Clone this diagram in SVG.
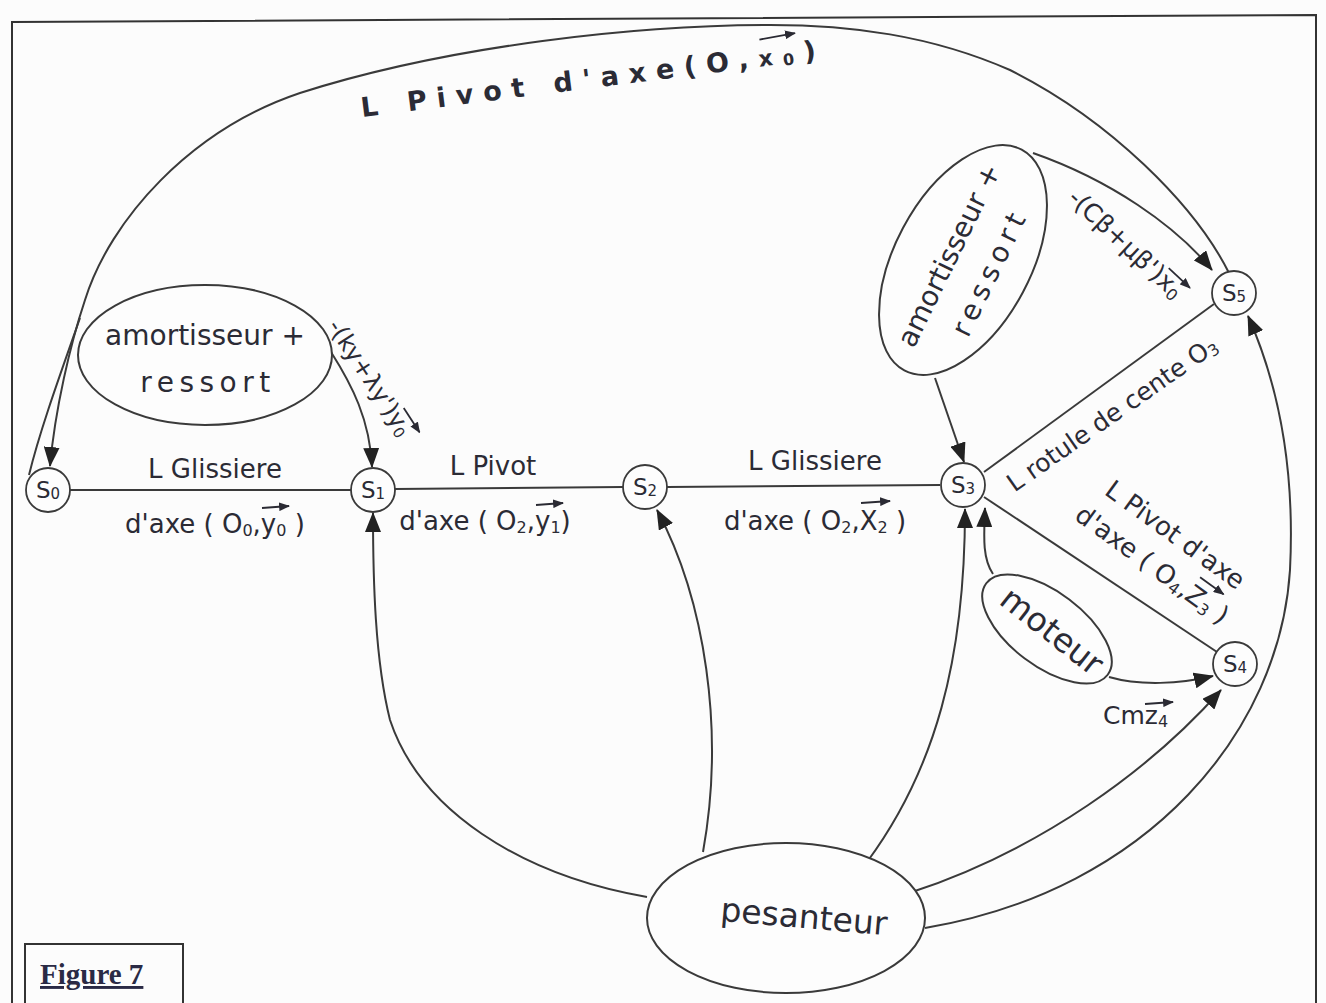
<svg xmlns="http://www.w3.org/2000/svg" width="1326" height="1003" viewBox="0 0 1326 1003">
<defs>
<marker id="ah" viewBox="0 0 20 16" refX="19" refY="8" markerWidth="20" markerHeight="16" markerUnits="userSpaceOnUse" orient="auto"><path d="M0,0 L20,8 L0,16 Z" fill="#222"/></marker>
<marker id="va" viewBox="0 0 10 8" refX="9" refY="4" markerWidth="11" markerHeight="9" markerUnits="userSpaceOnUse" orient="auto"><path d="M0,0 L10,4 L0,8 Z" fill="#2a2a33"/></marker>
</defs>
<style>
.ln{fill:none;stroke:#3a3a3a;stroke-width:2}
.nd{fill:#fdfdfd;stroke:#3a3a3a;stroke-width:1.8}
.el{fill:#fdfdfd;stroke:#3a3a3a;stroke-width:2}
.t{font-family:'DejaVu Sans',sans-serif;fill:#2b2b35}
.vec{stroke:#2a2a33;stroke-width:1.8;fill:none;marker-end:url(#va)}
</style>
<rect x="0" y="0" width="1326" height="1003" fill="#fcfcfc"/>
<path d="M12,1003 L12,22 L1316,15 L1316,1003" fill="none" stroke="#333" stroke-width="2"/>

<g id="connectors">
<path class="ln" d="M70,490 L351,490"/>
<path class="ln" d="M395,489 L623,487"/>
<path class="ln" d="M667,487 L940,485"/>
<path class="ln" d="M984,472 L1214,304"/>
<path class="ln" d="M984,497 L1217,652"/>
<path class="ln" marker-end="url(#ah)" d="M1229,273 C1195,205 1110,120 1010,70 C930,35 850,25 770,25 C640,25 450,45 300,93 C190,130 110,220 85,300 C70,345 55,410 50,466"/>
<path class="ln" d="M80,318 C60,375 40,430 29,475"/>
<path class="ln" marker-end="url(#ah)" d="M331,352 C352,385 370,420 372,467"/>
<path class="ln" marker-end="url(#ah)" d="M647,897 C520,875 420,810 390,720 C375,660 373,580 373,513"/>
<path class="ln" marker-end="url(#ah)" d="M703,852 C725,730 705,600 657,510"/>
<path class="ln" marker-end="url(#ah)" d="M867,862 C935,770 965,660 965,509"/>
<path class="ln" marker-end="url(#ah)" d="M993,574 C982,558 984,535 985,508"/>
<path class="ln" marker-end="url(#ah)" d="M1109,677 C1140,686 1180,684 1213,676"/>
<path class="ln" marker-end="url(#ah)" d="M912,892 C1040,850 1150,770 1221,690"/>
<path class="ln" marker-end="url(#ah)" d="M925,928 C1150,890 1280,730 1290,570 C1296,450 1272,370 1248,316"/>
<path class="ln" marker-end="url(#ah)" d="M935,378 L964,462"/>
<path class="ln" marker-end="url(#ah)" d="M1033,153 C1110,180 1175,225 1212,270"/>
</g>

<g id="label-pivot-top" class="t">
<g transform="translate(362,117) rotate(-7.2)">
<text x="0" y="0" font-size="27" font-weight="bold" letter-spacing="10">L Pivot d'axe(O,<tspan font-size="22">x</tspan><tspan font-size="16" dy="2">0</tspan><tspan dy="-2">)</tspan></text>
<path class="vec" d="M404,-27 L440,-29"/>
</g>
</g>

<g id="label-s0s1" class="t">
<text x="215" y="478" font-size="26" text-anchor="middle">L Glissiere</text>
<text x="215" y="533" font-size="26" text-anchor="middle">d'axe ( O<tspan font-size="16" dy="3">0</tspan><tspan dy="-3">,y</tspan><tspan font-size="16" dy="3">0</tspan><tspan dy="-3"> )</tspan></text>
<path class="vec" d="M262,508 L289,506"/>
</g>
<g id="label-s1s2" class="t">
<text x="493" y="475" font-size="26" text-anchor="middle">L Pivot</text>
<text x="485" y="530" font-size="26" text-anchor="middle">d'axe ( O<tspan font-size="16" dy="3">2</tspan><tspan dy="-3">,y</tspan><tspan font-size="16" dy="3">1</tspan><tspan dy="-3">)</tspan></text>
<path class="vec" d="M536,505 L563,503"/>
</g>
<g id="label-s2s3" class="t">
<text x="815" y="470" font-size="26" text-anchor="middle">L Glissiere</text>
<text x="815" y="530" font-size="26" text-anchor="middle">d'axe ( O<tspan font-size="16" dy="3">2</tspan><tspan dy="-3">,X</tspan><tspan font-size="16" dy="3">2</tspan><tspan dy="-3"> )</tspan></text>
<path class="vec" d="M861,503 L890,501"/>
</g>
<g id="label-s3s5" class="t">
<text transform="translate(1117,421) rotate(-35)" font-size="25" text-anchor="middle">L rotule de cente O<tspan font-size="16" dy="3">3</tspan></text>
</g>
<g id="label-s3s4" class="t">
<text transform="translate(1170,542) rotate(36)" font-size="26" text-anchor="middle">L Pivot d'axe</text>
<g transform="translate(1147,572) rotate(36)">
<text font-size="26" text-anchor="middle">d'axe ( O<tspan font-size="16" dy="3">4</tspan><tspan dy="-3">,Z</tspan><tspan font-size="16" dy="3">3</tspan><tspan dy="-3"> )</tspan></text>
<path class="vec" d="M46,-27 L75,-27"/>
</g>
</g>
<g id="label-ky" class="t">
<g transform="translate(363,382) rotate(57)">
<text font-size="24" text-anchor="middle">-(ky+λy')y<tspan font-size="15" dy="3">0</tspan></text>
<path class="vec" d="M44,-20 L73,-20"/>
</g>
</g>
<g id="label-cb" class="t">
<g transform="translate(1120,250) rotate(43)">
<text font-size="25" text-anchor="middle">-(Cβ+μβ')x<tspan font-size="16" dy="3">0</tspan></text>
<path class="vec" d="M48,-20 L77,-20"/>
</g>
</g>
<g id="label-cm" class="t">
<text x="1103" y="724" font-size="25">Cmz<tspan font-size="16" dy="3">4</tspan></text>
<path class="vec" d="M1145,704 L1173,702"/>
</g>

<g id="amortisseur-left">
<ellipse class="el" cx="205" cy="355" rx="127" ry="70"/>
<text class="t" x="205" y="345" font-size="28" text-anchor="middle">amortisseur +</text>
<text class="t" x="208" y="392" font-size="28" text-anchor="middle" letter-spacing="5.5">ressort</text>
</g>
<g id="amortisseur-right">
<ellipse class="el" cx="963" cy="260" rx="125" ry="68" transform="rotate(-62 963 260)"/>
<g transform="translate(963,262) rotate(-64)">
<text class="t" x="0" y="-6" font-size="28" text-anchor="middle">amortisseur +</text>
<text class="t" x="3" y="38" font-size="28" text-anchor="middle" letter-spacing="6">ressort</text>
</g>
</g>
<g id="moteur">
<ellipse class="el" cx="1047" cy="629" rx="76" ry="37" transform="rotate(37 1047 629)"/>
<text class="t" transform="translate(1045,640) rotate(38)" font-size="33" text-anchor="middle">moteur</text>
</g>
<g id="pesanteur">
<ellipse class="el" cx="786" cy="918" rx="139" ry="75"/>
<text class="t" transform="translate(803,928) rotate(5)" font-size="33" text-anchor="middle">pesanteur</text>
</g>

<g id="S0"><circle class="nd" cx="48" cy="490" r="22"/><text class="t" x="48" y="498" font-size="23" text-anchor="middle">S<tspan font-size="15" dy="1">0</tspan></text></g>
<g id="S1"><circle class="nd" cx="373" cy="490" r="22"/><text class="t" x="373" y="498" font-size="23" text-anchor="middle">S<tspan font-size="15" dy="1">1</tspan></text></g>
<g id="S2"><circle class="nd" cx="645" cy="487" r="22"/><text class="t" x="645" y="495" font-size="23" text-anchor="middle">S<tspan font-size="15" dy="1">2</tspan></text></g>
<g id="S3"><circle class="nd" cx="963" cy="485" r="22"/><text class="t" x="963" y="493" font-size="23" text-anchor="middle">S<tspan font-size="15" dy="1">3</tspan></text></g>
<g id="S4"><circle class="nd" cx="1235" cy="664" r="22"/><text class="t" x="1235" y="672" font-size="23" text-anchor="middle">S<tspan font-size="15" dy="1">4</tspan></text></g>
<g id="S5"><circle class="nd" cx="1234" cy="293" r="22"/><text class="t" x="1234" y="301" font-size="23" text-anchor="middle">S<tspan font-size="15" dy="1">5</tspan></text></g>

<g id="figure-label">
<rect x="25" y="944" width="158" height="62" fill="none" stroke="#333" stroke-width="2"/>
<text x="40" y="984" font-family="'Liberation Serif',serif" font-weight="bold" font-size="29" fill="#2a2a45" text-decoration="underline">Figure 7</text>
</g>
</svg>
